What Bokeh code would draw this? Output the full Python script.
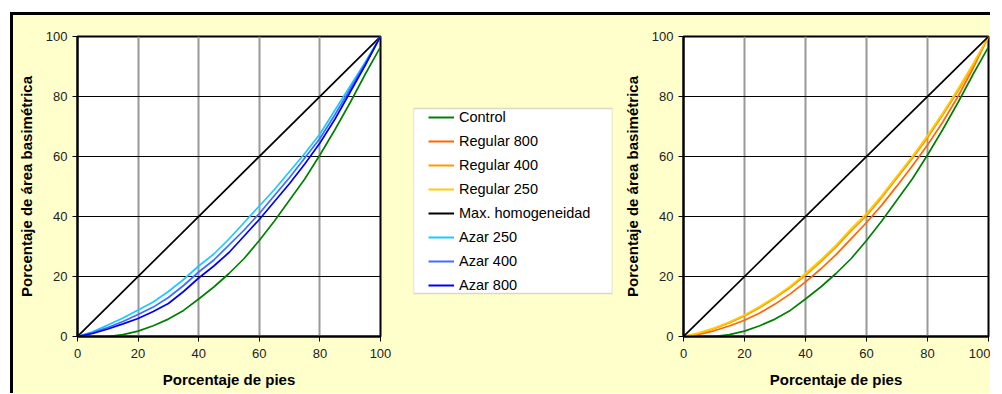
from bokeh.plotting import figure
from bokeh.models import Range1d, Legend, LegendItem, FixedTicker, BoxAnnotation
from bokeh.layouts import row
from bokeh.embed import file_html
from bokeh.resources import INLINE

# ---------------- data ----------------
pct = [0, 5, 10, 15, 20, 25, 30, 35, 40, 45, 50, 55, 60, 65, 70, 75, 80, 85, 90, 95, 100]

control = [0, 0, 0, 0.6, 1.8, 3.6, 5.8, 8.7, 12.5, 16.5, 21.0, 26.0, 32.0, 38.5, 45.5, 52.5, 60.5, 69.0, 78.0, 87.5, 96.5]

regular_800 = [0, 0.7, 1.9, 3.5, 5.4, 7.8, 10.8, 14.2, 18.2, 22.5, 27.3, 32.6, 38.0, 43.8, 50.2, 56.8, 63.8, 71.5, 80.0, 89.5, 100]
regular_400 = [0, 1.0, 2.6, 4.5, 6.8, 9.6, 12.8, 16.3, 20.4, 24.9, 29.8, 35.3, 40.3, 46.3, 52.8, 59.3, 66.2, 73.8, 81.8, 90.5, 100]
regular_250 = [0, 1.2, 2.8, 4.8, 7.2, 10.0, 13.2, 16.8, 21.0, 25.5, 30.5, 36.0, 41.0, 47.0, 53.5, 60.0, 67.0, 74.5, 82.5, 91.0, 100]

max_homog_x = [0, 100]
max_homog_y = [0, 100]

azar_250 = [0, 1.6, 3.8, 6.2, 8.8, 11.5, 15.0, 19.0, 23.5, 27.5, 32.5, 38.0, 43.5, 49.0, 55.0, 61.0, 67.5, 75.5, 83.5, 91.5, 100]
azar_400 = [0, 1.3, 3.0, 5.0, 7.3, 9.8, 13.0, 17.0, 21.5, 25.5, 30.5, 35.5, 41.0, 47.0, 53.0, 59.5, 66.0, 74.0, 82.5, 91.0, 100]
azar_800 = [0, 1.0, 2.5, 4.2, 6.0, 8.3, 11.0, 15.0, 19.5, 23.5, 28.0, 33.5, 39.0, 45.0, 51.0, 57.5, 64.5, 72.5, 81.5, 90.5, 100]

ticks = [0, 20, 40, 60, 80, 100]

x_title = "Porcentaje de pies"
y_title = "Porcentaje de área basimétrica"

series_names = ["Control", "Regular 800", "Regular 400", "Regular 250",
                "Max. homogeneidad", "Azar 250", "Azar 400", "Azar 800"]
series_colors = ["#008000", "#FF6600", "#FF9900", "#FFCC00",
                 "#000000", "#1EC8FF", "#3C6EFF", "#0000F0"]

# ---------------- style ----------------
FONT = "Liberation Sans"
CREAM = "#FFFFCC"
H = 378
TOP = 21
BOTTOM = 57
LW = 1.7


def make_plot(width, left, right):
    p = figure(width=width, height=H, x_range=Range1d(0, 100), y_range=Range1d(0, 100),
               output_backend="svg", toolbar_location=None,
               min_border_left=left, min_border_right=right,
               min_border_top=TOP, min_border_bottom=BOTTOM)
    p.border_fill_color = CREAM
    p.background_fill_color = "white"
    p.outline_line_color = "black"
    p.outline_line_width = 2
    for ax in (p.xaxis[0], p.yaxis[0]):
        ax.ticker = FixedTicker(ticks=ticks)
        ax.axis_line_width = 2
        ax.axis_line_color = "black"
        ax.major_tick_out = 5
        ax.major_tick_in = 0
        ax.major_tick_line_color = "black"
        ax.minor_tick_line_color = None
        ax.major_label_text_font = FONT
        ax.major_label_text_font_size = "13px"
        ax.major_label_text_color = "#222222"
        ax.axis_label_text_font = FONT
        ax.axis_label_text_font_size = "15px"
        ax.axis_label_text_font_style = "bold"
        ax.axis_label_text_color = "black"
    p.xaxis.axis_label = x_title
    p.yaxis.axis_label = y_title
    p.xaxis.major_label_standoff = 7
    p.xaxis.axis_label_standoff = 10
    p.yaxis.major_label_standoff = 5
    p.yaxis.axis_label_standoff = 8
    p.xgrid.grid_line_color = "#999999"
    p.xgrid.grid_line_width = 2
    p.ygrid.grid_line_color = "black"
    p.ygrid.grid_line_width = 1
    return p


# left plot: Control, Max, Azar
p1 = make_plot(387, 64, 20)
p1.line(pct, control, line_color=series_colors[0], line_width=LW)
p1.line(max_homog_x, max_homog_y, line_color=series_colors[4], line_width=LW)
p1.line(pct, azar_250, line_color=series_colors[5], line_width=LW)
p1.line(pct, azar_400, line_color=series_colors[6], line_width=LW)
p1.line(pct, azar_800, line_color=series_colors[7], line_width=LW)

# right plot: Control, Regular, Max
p2 = make_plot(370, 62, 2)
p2.line(pct, control, line_color=series_colors[0], line_width=LW)
p2.line(pct, regular_800, line_color=series_colors[1], line_width=LW)
p2.line(pct, regular_400, line_color=series_colors[2], line_width=LW)
p2.line(pct, regular_250, line_color=series_colors[3], line_width=LW)
p2.line(max_homog_x, max_homog_y, line_color=series_colors[4], line_width=LW)

# legend panel (renderers hidden; they only feed the legend)
pl = figure(width=220, height=H, x_range=Range1d(0, 100), y_range=Range1d(0, 100),
            x_axis_type=None, y_axis_type=None, output_backend="svg", toolbar_location=None,
            min_border_left=13, min_border_right=8, min_border_top=TOP, min_border_bottom=BOTTOM)
pl.grid.visible = False
pl.border_fill_color = CREAM
pl.background_fill_color = CREAM
pl.outline_line_color = None

legend_data = [(pct, control), (pct, regular_800), (pct, regular_400), (pct, regular_250),
               (max_homog_x, max_homog_y), (pct, azar_250), (pct, azar_400), (pct, azar_800)]

box = BoxAnnotation(left=0, right=100, bottom=14.3, top=76,
                    fill_color="white", fill_alpha=1.0,
                    line_color="#808080", line_width=1.5)
pl.add_layout(box)

items = []
for name, col, (xs, ys) in zip(series_names, series_colors, legend_data):
    r = pl.line(xs, ys, line_color=col, line_width=2, visible=False)
    items.append(LegendItem(label=name, renderers=[r]))

legend = Legend(items=items, location=(15, 41.5), padding=0, spacing=4,
                glyph_width=26, glyph_height=20, label_height=20, label_width=130,
                label_standoff=5, label_text_font=FONT, label_text_font_size="14.5px",
                label_text_color="black", border_line_alpha=0, background_fill_alpha=0,
                click_policy="none")
pl.add_layout(legend, "center")

lay = row(p1, pl, p2, styles={"border-top": "3px solid black", "border-left": "3px solid black",
                              "background-color": CREAM, "margin-top": "12px", "margin-left": "10px"})

open("out.html", "w").write(file_html(lay, INLINE))
